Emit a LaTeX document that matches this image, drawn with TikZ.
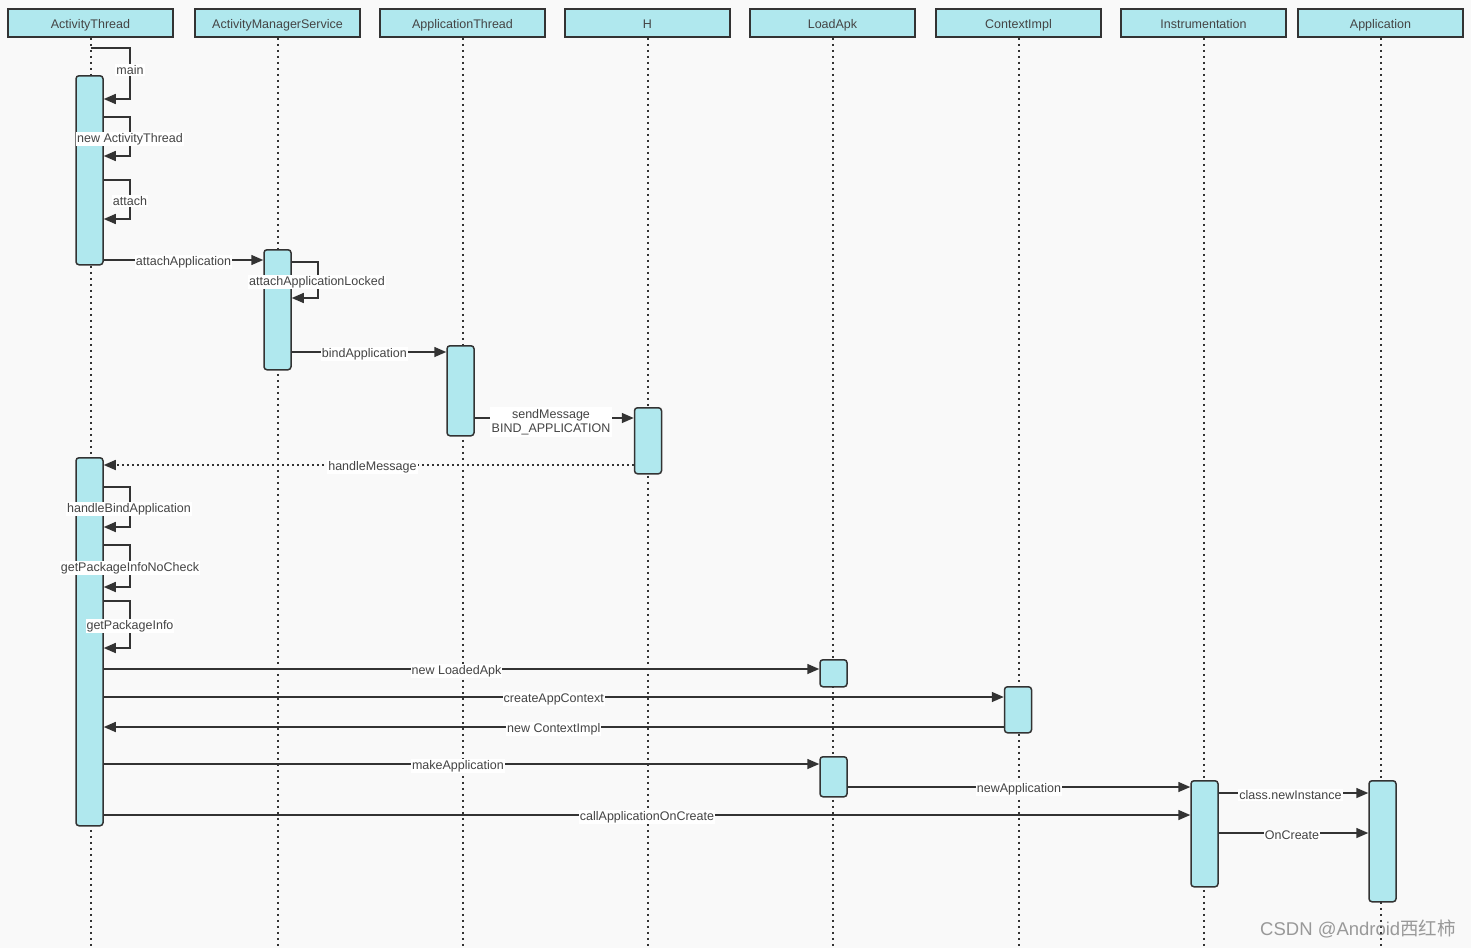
\documentclass[tikz,border=0pt]{standalone}
\usepackage{fontspec}
\setmainfont{Liberation Sans}
\newfontfamily\cjk{Noto Sans CJK SC}
\usetikzlibrary{arrows.meta,calc}
\definecolor{bg}{RGB}{249,249,249}
\definecolor{cyanfill}{RGB}{176,232,238}
\definecolor{ink}{RGB}{51,51,51}
\definecolor{txt}{RGB}{68,68,68}
\begin{document}
\begin{tikzpicture}[x=1pt,y=-1pt,
 head/.style={draw=ink,line width=1.7pt,fill=cyanfill,minimum width=165pt,minimum height=28pt,inner sep=0pt,font=\fontsize{12.5}{14}\selectfont,text=txt,text height=11pt,text depth=0pt},
 bar/.style={draw=ink,line width=1.5pt,fill=cyanfill,rounded corners=3pt,minimum width=27pt,inner sep=0pt,anchor=north},
 life/.style={ink,line width=2pt,dash pattern=on 2pt off 4pt},
 msg/.style={ink,line width=1.5pt,-{Triangle[length=12pt,width=10pt]}},
 ret/.style={msg,dash pattern=on 2pt off 3pt},
 lbl/.style={fill=white,inner sep=1pt,text=txt,font=\fontsize{12.5}{14.5}\selectfont,yshift=-2pt}
]
\fill[bg] (0,0) rectangle (1471,948);
\useasboundingbox (0,0) rectangle (1471,948);

% headers
\node[head] (hAT)  at (90.5,23)  {ActivityThread};
\node[head] (hAMS) at (277.5,23) {ActivityManagerService};
\node[head] (hApT) at (462.5,23) {ApplicationThread};
\node[head] (hH)   at (647.5,23) {H};
\node[head] (hLA)  at (832.5,23) {LoadApk};
\node[head] (hCI)  at (1018.5,23) {ContextImpl};
\node[head] (hIn)  at (1203.5,23) {Instrumentation};
\node[head] (hApp) at (1380.5,23) {Application};

% lifelines
\foreach \h in {hAT,hAMS,hApT,hH,hLA,hCI,hIn,hApp}
  \draw[life] (\h.south) -- (\h.south |- 0,948);

% activation bars
\node[bar,minimum height=189pt] (at1) at (89.5,75) {};
\node[bar,minimum height=120pt] (ams) at (277.5,249) {};
\node[bar,minimum height=90pt]  (apt) at (460.5,345) {};
\node[bar,minimum height=66pt]  (hbar) at (648,407) {};
\node[bar,minimum height=368pt] (at2) at (89.5,457) {};
\node[bar,minimum height=27pt]  (la1) at (833.5,659) {};
\node[bar,minimum height=46pt]  (ci)  at (1018,686) {};
\node[bar,minimum height=40pt]  (la2) at (833.5,756) {};
\node[bar,minimum height=106pt] (ins) at (1204.5,780) {};
\node[bar,minimum height=121pt] (app) at (1382.5,780) {};

% self calls on ActivityThread
\draw[msg] (hAT.south |- 0,48) -- (130,48) |- (at1.east |- 0,99);
\node[lbl] (lmain) at (130,68) {main};
\draw[msg] (at1.east |- 0,117) -- (130,117) |- (at1.east |- 0,156);
\node[lbl] (lnew) at (130,137) {new ActivityThread};
\draw[msg] (at1.east |- 0,180) -- (130,180) |- (at1.east |- 0,219);
\node[lbl] (lattach) at (130,199) {attach};

% attachApplication
\draw[msg] (at1.east |- 0,260) -- (ams.west |- 0,260) node[lbl,pos=0.5] (lattapp) {attachApplication};
% attachApplicationLocked
\draw[msg] (ams.east |- 0,262) -- (318,262) |- (ams.east |- 0,298);
\node[lbl] (lattl) at (317,280) {attachApplicationLocked};
% bindApplication
\draw[msg] (ams.east |- 0,352) -- (apt.west |- 0,352) node[lbl,pos=0.47] (lbind) {bindApplication};
% sendMessage
\draw[msg] (apt.east |- 0,418) -- (hbar.west |- 0,418);
\node[lbl,align=center,inner sep=2pt] (lsend) at (551,420) {sendMessage\\BIND\_APPLICATION};
% handleMessage
\draw[ret] (hbar.west |- 0,465) -- (at2.east |- 0,465) node[lbl,pos=0.493] (lhm) {handleMessage};

% self calls second activation
\draw[msg] (at2.east |- 0,487) -- (130,487) |- (at2.east |- 0,527);
\node[lbl] (lhba) at (129,507) {handleBindApplication};
\draw[msg] (at2.east |- 0,545) -- (130,545) |- (at2.east |- 0,587);
\node[lbl] (lgpinc) at (130,566) {getPackageInfoNoCheck};
\draw[msg] (at2.east |- 0,601) -- (130,601) |- (at2.east |- 0,648);
\node[lbl] (lgpi) at (130,624) {getPackageInfo};

% messages
\draw[msg] (at2.east |- 0,669) -- (la1.west |- 0,669) node[lbl,pos=0.493] (lnla) {new LoadedApk};
\draw[msg] (at2.east |- 0,697) -- (ci.west |- 0,697) node[lbl,pos=0.5] (lcac) {createAppContext};
\draw[msg] (ci.west |- 0,727) -- (at2.east |- 0,727) node[lbl,pos=0.5] (lnci) {new ContextImpl};
\draw[msg] (at2.east |- 0,764) -- (la2.west |- 0,764) node[lbl,pos=0.495] (lma) {makeApplication};
\draw[msg] (la2.east |- 0,787) -- (ins.west |- 0,787) node[lbl,pos=0.5] (lna) {newApplication};
\draw[msg] (at2.east |- 0,815) -- (ins.west |- 0,815) node[lbl,pos=0.5] (lcaoc) {callApplicationOnCreate};
\draw[msg] (ins.east |- 0,793) -- (app.west |- 0,793) node[lbl,pos=0.48] (lcni) {class.newInstance};
\draw[msg] (ins.east |- 0,833) -- (app.west |- 0,833) node[lbl,pos=0.49] (loc) {OnCreate};

% watermark
\node[text=black!40,font=\fontsize{18.5}{20}\selectfont] (wm) at (1358,929) {CSDN @Android{\cjk 西红柿}};
\end{tikzpicture}
\end{document}
